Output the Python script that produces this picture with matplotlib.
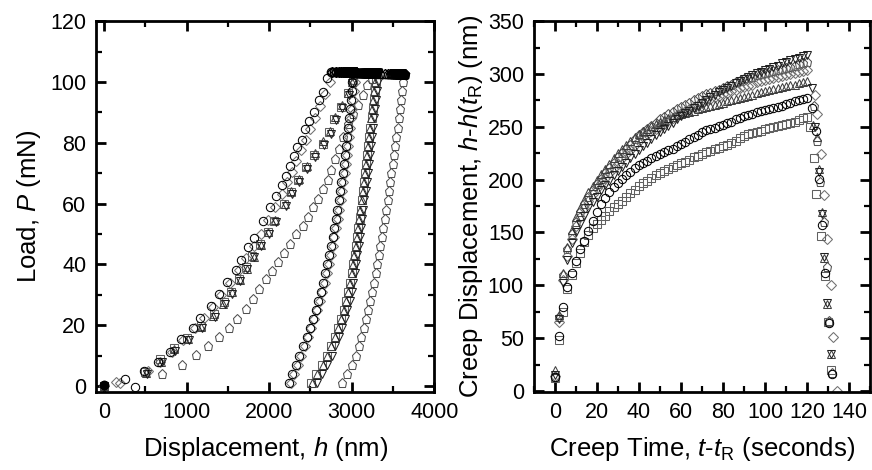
import numpy as np
import matplotlib
matplotlib.use("Agg")
import matplotlib.pyplot as plt
from matplotlib.ticker import MultipleLocator

plt.rcParams['font.family'] = ['Liberation Sans', 'DejaVu Sans']
plt.rcParams['mathtext.fontset'] = 'custom'
plt.rcParams['mathtext.rm'] = 'Liberation Sans'
plt.rcParams['mathtext.it'] = 'Liberation Sans:italic'

# ---------------- creep data (right panel), t - tR in seconds ----------------
t_creep = [0, 2, 4, 6, 8, 10, 12, 14, 16, 18, 20, 22, 24, 26, 28, 30, 32, 34, 36, 38,
           40, 42, 44, 46, 48, 50, 52, 54, 56, 58, 60, 62, 64, 66, 68, 70, 72, 74, 76, 78,
           80, 82, 84, 86, 88, 90, 92, 94, 96, 98, 100, 102, 104, 106, 108, 110, 112, 114,
           116, 118, 120]

creep_circ = [13, 52, 79, 98, 112, 123, 134, 142, 151, 161, 169, 177, 183, 188, 193, 197,
              201, 204, 207, 211, 214, 216, 218, 220, 222, 224, 226, 228, 229, 232, 234, 236,
              238, 240, 242, 245, 247, 248, 249, 251, 252, 254, 255, 257, 258, 260, 261, 262,
              264, 265, 266, 267, 268, 269, 270, 272, 273, 274, 275, 276, 277]
creep_sq = [12, 48, 75, 96, 110, 121, 131, 141, 148, 154, 158, 162, 166, 170, 174, 177,
            180, 184, 187, 190, 194, 197, 199, 202, 204, 206, 208, 210, 212, 214, 216, 217,
            219, 221, 222, 224, 226, 227, 229, 230, 232, 233, 235, 237, 239, 241, 243, 244,
            245, 246, 248, 249, 250, 251, 252, 253, 254, 255, 256, 258, 259]
creep_tri = [20, 72, 112, 136, 152, 165, 173, 181, 188, 194, 200, 205, 210, 215, 220, 225,
             229, 233, 237, 240, 243, 246, 248, 251, 253, 255, 256, 258, 259, 261, 262, 263,
             264, 265, 267, 268, 269, 270, 271, 272, 273, 274, 275, 276, 277, 278, 279, 280,
             282, 283, 284, 285, 286, 287, 288, 289, 290, 290, 291, 292, 293]
creep_tdn = [15, 68, 102, 124, 140, 150, 158, 166, 173, 179, 184, 190, 195, 199, 204, 208,
             212, 216, 220, 224, 228, 232, 235, 238, 242, 245, 248, 251, 254, 257, 260, 263,
             265, 268, 270, 273, 275, 278, 280, 283, 285, 287, 289, 291, 293, 295, 297, 299,
             301, 302, 304, 305, 307, 308, 310, 311, 313, 314, 315, 317, 318]
creep_dia = [14, 65, 105, 128, 144, 156, 165, 173, 180, 186, 192, 197, 202, 206, 211, 215,
             220, 224, 228, 233, 237, 240, 243, 246, 248, 251, 253, 256, 258, 261, 263, 265,
             267, 269, 271, 273, 275, 276, 278, 279, 281, 282, 284, 285, 287, 288, 289, 290,
             292, 293, 294, 295, 296, 297, 298, 299, 300, 301, 302, 303, 304]
creep_pen = [13, 70, 110, 134, 149, 160, 169, 177, 184, 190, 196, 201, 206, 211, 216, 221,
             225, 229, 233, 238, 242, 245, 248, 251, 254, 257, 259, 262, 264, 267, 269, 271,
             273, 275, 277, 279, 281, 282, 284, 285, 287, 289, 290, 292, 293, 295, 296, 297,
             299, 300, 301, 302, 303, 304, 305, 306, 307, 308, 309, 310, 311]

# unloading part seen on the creep plot (after 120 s)
tail_t_circ = [122.5, 124, 125.5, 127, 128.5, 130.4, 131.7]
tail_y_circ = [268, 246, 201, 157, 112, 64, 16]
tail_t_sq = [121.5, 123.3, 124.4, 126.5, 128.5, 130, 131.2]
tail_y_sq = [250, 220, 186, 147, 109, 65, 20]
tail_t_tri = [123, 124.5, 125.7, 127.2, 128, 129.6, 131.2]
tail_y_tri = [252, 240, 210, 169, 126, 82, 35]
tail_t_tdn = [122.5, 123.5, 125.7, 127.2, 128, 129.6, 131.2]
tail_y_tdn = [287, 250, 207, 167, 127, 83, 35]
tail_t_dia = [123.5, 124.9, 126.5, 128, 129.6, 131.2, 132.3, 134.3]
tail_y_dia = [280, 262, 224, 185, 144, 100, 51, 0]
tail_t_pen = [123.3, 124.9, 125.9, 127.8, 129.6, 130.4, 131.7]
tail_y_pen = [270, 237, 198, 160, 117, 66, 17]

# ---------------- load-displacement data (left panel) ----------------
load_h_circ = [0, 377, 255, 487, 653, 795, 937, 1079, 1160, 1290, 1391, 1493, 1594, 1655,
               1748, 1817, 1927, 2004, 2081, 2154, 2203, 2255, 2296, 2337, 2398, 2434, 2487,
               2548, 2600, 2649, 2702]
load_p_circ = [0.3, -0.3, 2.2, 5, 8, 11.2, 15.4, 19.2, 22.3, 26.4, 30.2, 34.3, 38.1, 41.5,
               45.6, 48.6, 54.4, 58.8, 62.6, 66.2, 69.2, 72.5, 75.5, 78.6, 81, 84.4, 87.1,
               90.2, 94, 96.7, 101.4]
load_h_dia = [0, 146, 195, 530, 680, 820, 960, 1100, 1210, 1320, 1420, 1530, 1630, 1720,
              1820, 1900, 1990, 2070, 2150, 2220, 2280, 2330, 2380, 2440, 2490, 2560, 2620,
              2680, 2740]
load_p_dia = [0, 1.4, 0.8, 5, 8, 11, 15, 19, 22.5, 26, 30, 34, 38, 42, 46, 50, 54.5, 59, 63,
              67, 70.5, 74, 77.5, 81, 84.5, 88, 92, 96, 100]
load_h_sq = [0, 500, 681, 844, 1006, 1168, 1331, 1452, 1533, 1635, 1716, 1797, 1890, 1980,
             2061, 2183, 2264, 2345, 2446, 2548, 2649, 2730, 2791, 2872, 2953, 3014]
load_p_sq = [0, 4.5, 8.8, 12.6, 15.9, 19.8, 23.6, 27.5, 30.8, 35.2, 39, 42.9, 46.7, 50.5,
             54.4, 59.9, 63.7, 67.6, 72, 75.8, 79.7, 83.5, 87.9, 91.8, 96.2, 100.6]
load_h_tri = [0, 510, 690, 850, 1015, 1175, 1320, 1440, 1545, 1640, 1725, 1810, 1900, 1990,
              2075, 2190, 2270, 2355, 2455, 2555, 2655, 2735, 2800, 2880, 2960, 3000]
load_p_tri = [0, 4.2, 8, 12, 15.5, 19.5, 23, 27, 31, 35, 38.5, 42.5, 46.5, 50.5, 54.5, 60,
              64, 68, 72.5, 76.5, 80.5, 84, 88.5, 92.5, 96.5, 100]
load_h_tdn = [0, 520, 700, 860, 1025, 1185, 1345, 1465, 1550, 1650, 1730, 1815, 1905, 1995,
              2080, 2200, 2280, 2360, 2460, 2560, 2660, 2745, 2805, 2885, 2965, 3005]
load_p_tdn = [0, 4, 7.8, 11.5, 15, 19, 22.8, 26.8, 30.2, 34.6, 38.3, 42.3, 46, 50, 54, 59.3,
              63, 67, 71.5, 75.3, 79.3, 83, 87.5, 91.3, 95.6, 99.8]
load_h_pen = [702, 945, 1107, 1258, 1391, 1513, 1615, 1716, 1805, 1878, 1959, 2028, 2101,
              2183, 2256, 2325, 2406, 2467, 2527, 2588, 2649, 2710, 2750, 2800, 2851, 2900,
              2954, 3010, 3075, 3136, 3190, 3250]
load_p_pen = [3.8, 6.9, 10.2, 13.2, 16.2, 19.2, 22, 25.3, 28.6, 31.9, 35.2, 37.7, 40.7, 43.6,
              46.7, 50, 52.7, 55.7, 58.8, 61.5, 64.8, 67.6, 70.9, 74.5, 78, 82, 86, 89.5,
              92.5, 95.6, 99, 101]

# depth at start of hold, and hold load
h_r = {'circ': 2735, 'dia': 2745, 'sq': 3030, 'tri': 2990, 'tdn': 3002, 'pen': 3330}
p_max = {'circ': 103.2, 'dia': 103.2, 'sq': 102.8, 'tri': 102.8, 'tdn': 102.8, 'pen': 102.6}

unl_p = [100, 97, 94, 91, 88, 85, 82, 79, 76, 73, 70, 67, 64, 61, 58, 55, 52, 49, 46, 43,
         40, 37, 34, 31, 28, 25, 22, 19, 16, 13, 10, 7, 4, 1]
unl_h_circ = [3008, 3000, 2990, 2978, 2966, 2955, 2944, 2932, 2920, 2905, 2890, 2870, 2857,
              2843, 2827, 2809, 2791, 2772, 2749, 2727, 2705, 2682, 2655, 2625, 2595, 2562,
              2527, 2490, 2452, 2410, 2366, 2322, 2282, 2245]
unl_h_dia = [3040, 3030, 3018, 3005, 2992, 2980, 2968, 2955, 2942, 2928, 2913, 2896, 2880,
             2864, 2847, 2829, 2810, 2790, 2768, 2745, 2722, 2698, 2672, 2643, 2613, 2581,
             2547, 2510, 2472, 2432, 2390, 2346, 2305, 2265]
unl_h_sq = [3300, 3285, 3270, 3254, 3240, 3227, 3213, 3200, 3188, 3176, 3164, 3152, 3138,
            3124, 3110, 3096, 3081, 3066, 3050, 3034, 3020, 3002, 2982, 2960, 2935, 2905,
            2872, 2836, 2796, 2748, 2700, 2645, 2566, 2505]
unl_h_tri = [3280, 3268, 3255, 3242, 3230, 3218, 3206, 3194, 3182, 3170, 3158, 3146, 3133,
             3120, 3106, 3092, 3078, 3063, 3047, 3031, 3016, 2998, 2979, 2958, 2934, 2906,
             2874, 2838, 2800, 2754, 2706, 2652, 2580, 2515]
unl_h_tdn = [3318, 3305, 3292, 3279, 3266, 3253, 3240, 3228, 3216, 3204, 3192, 3180, 3167,
             3154, 3141, 3127, 3113, 3098, 3083, 3068, 3053, 3036, 3018, 2998, 2975, 2948,
             2918, 2884, 2846, 2802, 2756, 2704, 2640, 2580]
unl_h_pen = [3625, 3612, 3598, 3584, 3570, 3556, 3541, 3526, 3511, 3496, 3481, 3466, 3450,
             3434, 3418, 3401, 3384, 3366, 3348, 3330, 3311, 3291, 3270, 3249, 3226, 3202,
             3176, 3148, 3118, 3085, 3048, 3005, 2945, 2880]

series = [
    # key, marker, edge colour, load h, load P, creep, tail t, tail y, unload h
    ('pen', 'p', '#505050', load_h_pen, load_p_pen, creep_pen, tail_t_pen, tail_y_pen, unl_h_pen),
    ('dia', 'D', '#707070', load_h_dia, load_p_dia, creep_dia, tail_t_dia, tail_y_dia, unl_h_dia),
    ('sq', 's', '#606060', load_h_sq, load_p_sq, creep_sq, tail_t_sq, tail_y_sq, unl_h_sq),
    ('tri', '^', '#404040', load_h_tri, load_p_tri, creep_tri, tail_t_tri, tail_y_tri, unl_h_tri),
    ('tdn', 'v', '#202020', load_h_tdn, load_p_tdn, creep_tdn, tail_t_tdn, tail_y_tdn, unl_h_tdn),
    ('circ', 'o', 'black', load_h_circ, load_p_circ, creep_circ, tail_t_circ, tail_y_circ, unl_h_circ),
]
msize = {'o': 6, 's': 5.5, '^': 6.2, 'v': 6.2, 'D': 4.6, 'p': 6.6}

fig = plt.figure(figsize=(8.72, 4.70), dpi=100)
ax1 = fig.add_axes([0.110, 0.166, 0.388, 0.789])
ax2 = fig.add_axes([0.612, 0.166, 0.386, 0.789])

for key, mk, col, lh, lp, cr, tt, ty, uh in series:
    kw = dict(ls='none', marker=mk, ms=msize[mk], mfc='none', mec=col, mew=0.75)
    ax1.plot(lh, lp, **kw)
    ax1.plot(uh, unl_p, **kw)
    ax2.plot(t_creep, cr, **kw)
    ax2.plot(tt, ty, **kw)

# hold segment: depth = h(tR) + creep displacement, drawn over the rest
for key, mk, col, lh, lp, cr, tt, ty, uh in series:
    hold_h = h_r[key] + np.array(cr)
    ax1.plot(hold_h, np.full(len(cr), p_max[key]), ls='none', marker=mk,
             ms=msize[mk], mfc='none', mec='black', mew=1.0)

# contact point drawn filled
ax1.plot([0], [0.3], ls='none', marker='o', ms=6, color='black')

ax1.set_xlim(-100, 4000)
ax1.set_ylim(-2, 120)
ax1.xaxis.set_major_locator(MultipleLocator(1000))
ax1.xaxis.set_minor_locator(MultipleLocator(500))
ax1.yaxis.set_major_locator(MultipleLocator(20))
ax1.yaxis.set_minor_locator(MultipleLocator(10))
ax1.set_xlabel('Displacement, $h$ (nm)', fontsize=18.5, labelpad=9)
ax1.set_ylabel('Load, $P$ (mN)', fontsize=18.5, labelpad=5)

ax2.set_xlim(-10, 150)
ax2.set_ylim(-1, 350)
ax2.xaxis.set_major_locator(MultipleLocator(20))
ax2.xaxis.set_minor_locator(MultipleLocator(10))
ax2.yaxis.set_major_locator(MultipleLocator(50))
ax2.yaxis.set_minor_locator(MultipleLocator(25))
ax2.set_xlabel('Creep Time, $t$-$t_\\mathrm{R}$ (seconds)', fontsize=18.5, labelpad=9)
ax2.set_ylabel('Creep Displacement, $h$-$h$($t_\\mathrm{R}$) (nm)', fontsize=18.5, labelpad=2)

for ax in (ax1, ax2):
    for s in ax.spines.values():
        s.set_linewidth(2.0)
    ax.tick_params(which='both', direction='in', top=True, right=True, labelsize=15.5)
    ax.tick_params(which='major', length=7, width=2.0, pad=7)
    ax.tick_params(which='minor', length=4.5, width=1.6)

fig.savefig('out.png', dpi=100)
